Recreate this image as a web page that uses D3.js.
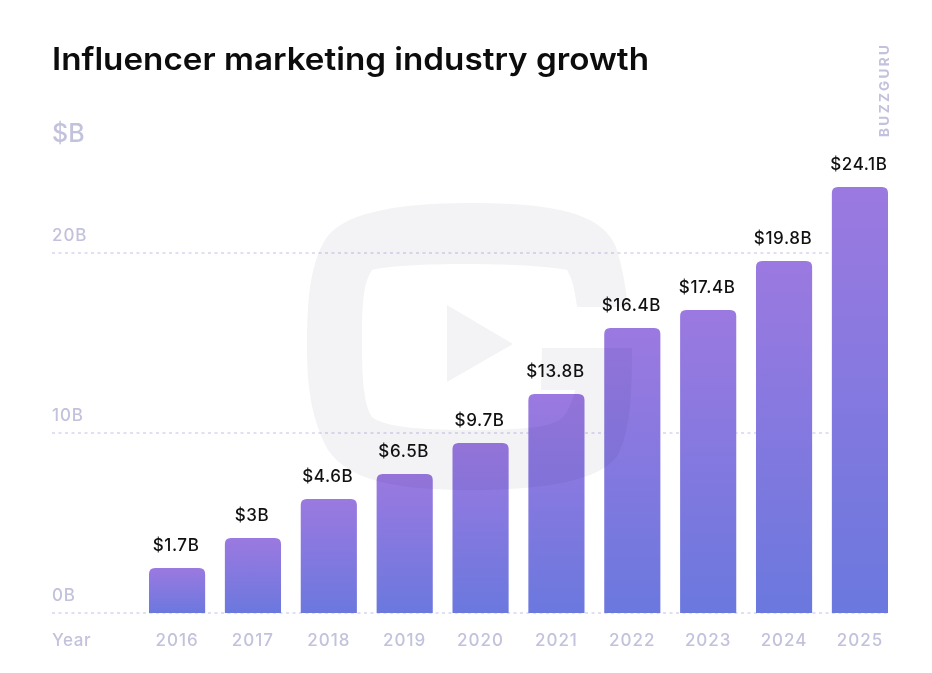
<!DOCTYPE html>
<html>
<head>
<meta charset="utf-8">
<script src="https://d3js.org/d3.v7.min.js"></script>
<style>
  html, body { margin: 0; padding: 0; background: #fff; }
  text { font-family: Inter, "Noto Sans", sans-serif; }
</style>
</head>
<body>
<div id="chart"></div>
<script>
var years = ['2016', '2017', '2018', '2019', '2020', '2021', '2022', '2023', '2024', '2025'];
// bar heights as drawn in the picture (they sit a bit off the printed labels)
var barValues = [2.5, 4.17, 6.33, 7.72, 9.44, 12.17, 15.83, 16.83, 19.55, 23.67];
var barLabels = ['$1.7B', '$3B', '$4.6B', '$6.5B', '$9.7B', '$13.8B', '$16.4B', '$17.4B', '$19.8B', '$24.1B'];
var yTicks = [0, 10, 20];

var width = 932, height = 673;
var gridColor = '#d9d5f0';
var mutedColor = '#c3c2dc';

var svg = d3.select('#chart').append('svg')
  .attr('width', width)
  .attr('height', height)
  .style('display', 'block');

var x = d3.scaleBand().domain(years).range([149, 888]).paddingInner(0.26).paddingOuter(0);
var y = d3.scaleLinear().domain([0, 20]).range([613, 253]);

var grad = svg.append('defs').append('linearGradient')
  .attr('id', 'barFill')
  .attr('gradientUnits', 'objectBoundingBox')
  .attr('x1', 0).attr('y1', 0).attr('x2', 0).attr('y2', 1);
grad.append('stop').attr('offset', '0%').attr('stop-color', '#9b79e0');
grad.append('stop').attr('offset', '100%').attr('stop-color', '#6b78de');

// title
svg.append('text')
  .attr('x', 52).attr('y', 70)
  .attr('font-size', 31).attr('font-weight', 600).attr('fill', '#0c0c0c')
  .attr('textLength', 597).attr('lengthAdjust', 'spacingAndGlyphs')
  .text('Influencer marketing industry growth');

svg.append('text')
  .attr('x', 52).attr('y', 142)
  .attr('font-size', 25).attr('font-weight', 500).attr('fill', mutedColor)
  .text('$B');

svg.append('text')
  .attr('transform', 'translate(889,137) rotate(-90)')
  .attr('font-size', 13.5).attr('font-weight', 700).attr('fill', mutedColor)
  .attr('textLength', 92).attr('lengthAdjust', 'spacing')
  .text('BUZZGURU');

// grid + y labels
var yAxis = svg.append('g').attr('class', 'y-axis');
yAxis.selectAll('line')
  .data(yTicks).enter().append('line')
  .attr('x1', 52).attr('x2', 888)
  .attr('y1', function(d) { return y(d); })
  .attr('y2', function(d) { return y(d); })
  .attr('stroke', gridColor)
  .attr('stroke-width', 1.5)
  .attr('stroke-dasharray', '3 3.5');
yAxis.selectAll('text')
  .data(yTicks).enter().append('text')
  .attr('x', 52)
  .attr('y', function(d) { return y(d) - 12; })
  .attr('font-size', 17).attr('font-weight', 500).attr('letter-spacing', 0.9).attr('fill', mutedColor)
  .text(function(d) { return d + 'B'; });

// bars, square at the baseline
svg.selectAll('path.bar')
  .data(years).enter().append('path')
  .attr('class', 'bar')
  .attr('fill', 'url(#barFill)')
  .attr('d', function(d, i) {
    var r = 6, l = x(d), w = x.bandwidth(), t = y(barValues[i]), b = y(0);
    return 'M' + l + ',' + b + 'V' + (t + r) + 'Q' + l + ',' + t + ' ' + (l + r) + ',' + t +
      'H' + (l + w - r) + 'Q' + (l + w) + ',' + t + ' ' + (l + w) + ',' + (t + r) + 'V' + b + 'Z';
  });

// logo watermark sits over the bars and darkens them slightly
var logo = svg.append('g').style('mix-blend-mode', 'multiply').attr('fill', '#f3f3f6');
logo.append('path')
  .attr('fill-rule', 'evenodd')
  .attr('d', 'M470,203 C560,203 605,215 617,250 C623,270 626,290 628,307 L577,307 C575,290 572,278 567,270 C530,262 400,262 372,270 C362,285 362,310 362,345 C362,380 364,405 372,417 C385,428 430,430 470,430 C520,430 550,428 562,418 C570,410 574,395 575,390 L541,390 L542,348 L632,348 C632,400 630,430 618,455 C600,482 540,490 470,490 C400,490 350,482 328,450 C312,420 307,390 307,345 C307,300 310,265 325,240 C340,215 390,203 470,203 Z');
logo.append('path').attr('d', 'M447,305 L513,344 L447,382 Z');

// value labels
svg.selectAll('text.bar-label')
  .data(years).enter().append('text')
  .attr('class', 'bar-label')
  .attr('x', function(d) { return x(d) + x.bandwidth() / 2 - 1; })
  .attr('y', function(d, i) { return y(barValues[i]) - 17; })
  .attr('text-anchor', 'middle')
  .attr('font-size', 17).attr('font-weight', 500).attr('letter-spacing', 0.6).attr('fill', '#111')
  .text(function(d, i) { return barLabels[i]; });

// x axis labels
svg.append('text')
  .attr('x', 52).attr('y', 646)
  .attr('font-size', 17).attr('font-weight', 500).attr('letter-spacing', 0.6).attr('fill', mutedColor)
  .text('Year');
svg.selectAll('text.year')
  .data(years).enter().append('text')
  .attr('class', 'year')
  .attr('x', function(d) { return x(d) + x.bandwidth() / 2; })
  .attr('y', 646)
  .attr('text-anchor', 'middle')
  .attr('font-size', 17).attr('font-weight', 500).attr('letter-spacing', 1).attr('fill', mutedColor)
  .text(function(d) { return d; });
</script>
</body>
</html>
